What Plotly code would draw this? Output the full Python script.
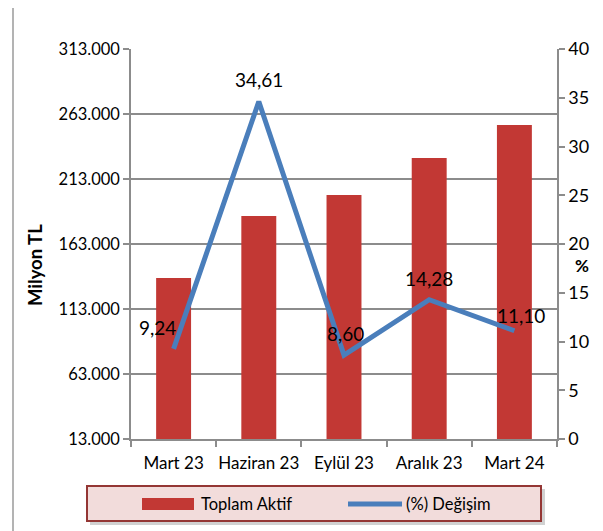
import plotly.graph_objects as go

categories = ["Mart 23", "Haziran 23", "Eylül 23", "Aralık 23", "Mart 24"]
toplam_aktif = [136850, 184540, 200700, 229150, 254540]
degisim = [9.24, 34.61, 8.60, 14.28, 11.10]
left_ticks = [13000, 63000, 113000, 163000, 213000, 263000, 313000]
right_ticks = [0, 5, 10, 15, 20, 25, 30, 35, 40]

label_dx = [-16, 0, 1, 0, 7]
label_dy = [21, 22, 22, 21, 15]

FONT = "Lato"
OFF = 8  # page body margin
WIN_W, WIN_H = 603, 531
W, H = WIN_W - OFF, WIN_H - OFF
# plot area in window pixels
PX0, PX1, PY0, PY1 = 131, 557, 49, 439
L, R, T, B = PX0 - OFF, WIN_W - PX1, PY0 - OFF, WIN_H - PY1
PW, PH = PX1 - PX0, PY1 - PY0


def px_x(p):
    return (p - PX0) / PW


def px_y(p):
    return (PY1 - p) / PH


fig = go.Figure()
fig.add_trace(go.Bar(
    x=categories, y=toplam_aktif, name="Toplam Aktif",
    marker=dict(color="#C23834", line=dict(width=0)),
    yaxis="y", showlegend=False,
))
fig.add_trace(go.Scatter(
    x=categories, y=degisim, name="(%) Değişim", mode="lines",
    line=dict(color="#4A7EBB", width=5), yaxis="y2", showlegend=False,
))

for c, v, dx, dy in zip(categories, degisim, label_dx, label_dy):
    fig.add_annotation(
        x=c, y=v, xref="x", yref="y2", text=f"{v:.2f}".replace(".", ","),
        showarrow=False, xshift=dx, yshift=dy,
        font=dict(family=FONT, size=19, color="#000"),
    )

grid_col = "#8C8C8C"
fig.update_layout(
    width=W, height=H,
    margin=dict(l=L, r=R, t=T, b=B, pad=0),
    paper_bgcolor="white", plot_bgcolor="white",
    separators=",.",
    bargap=0.59,
    font=dict(family=FONT, size=17, color="#000"),
    xaxis=dict(
        showline=True, linecolor=grid_col, linewidth=1.5,
        ticks="outside", tickson="boundaries", ticklen=6,
        tickcolor=grid_col, tickwidth=1.5, showgrid=False,
        tickangle=0, automargin=False, ticklabelstandoff=8,
        tickfont=dict(family=FONT, size=17, color="#000"),
    ),
    yaxis=dict(
        range=[13000, 313000], tickvals=left_ticks,
        tickformat=",d", showgrid=True, gridcolor=grid_col, gridwidth=1.5,
        showline=True, linecolor=grid_col, linewidth=1.5,
        ticks="outside", ticklen=6, tickcolor=grid_col, tickwidth=1.5,
        tickfont=dict(family=FONT, size=16.5, color="#000"),
        zeroline=False,
    ),
    yaxis2=dict(
        range=[0, 40], tickvals=right_ticks, overlaying="y", side="right",
        showgrid=False, showline=True, linecolor=grid_col, linewidth=1.5,
        ticks="outside", ticklen=6, tickcolor=grid_col, tickwidth=1.5,
        tickfont=dict(family=FONT, size=18, color="#000"),
        zeroline=False,
    ),
)

# Axis titles
fig.add_annotation(
    x=px_x(35), y=px_y(265), xref="paper", yref="paper", text="<b>Milyon TL</b>",
    textangle=-90, showarrow=False, xanchor="center", yanchor="middle",
    font=dict(family=FONT, size=18.5, color="#000"),
)
fig.add_annotation(
    x=px_x(582), y=px_y(265), xref="paper", yref="paper", text="<b>%</b>",
    showarrow=False, xanchor="center", yanchor="middle",
    font=dict(family=FONT, size=17, color="#000"),
)

shapes = []
# outer frame
shapes.append(dict(type="rect", xref="paper", yref="paper",
                   x0=px_x(13), x1=px_x(600), y0=px_y(545), y1=px_y(3),
                   line=dict(color="#9A9A9A", width=1.5), fillcolor="rgba(0,0,0,0)", layer="below"))
# legend box shadow + box
shapes.append(dict(type="rect", xref="paper", yref="paper",
                   x0=px_x(90), x1=px_x(545), y0=px_y(525), y1=px_y(489),
                   line=dict(width=0), fillcolor="rgba(0,0,0,0.18)", layer="below"))
shapes.append(dict(type="rect", xref="paper", yref="paper",
                   x0=px_x(87), x1=px_x(541), y0=px_y(521), y1=px_y(486),
                   line=dict(color="#943634", width=2), fillcolor="#F2DCDB", layer="below"))
# legend symbols
shapes.append(dict(type="rect", xref="paper", yref="paper",
                   x0=px_x(142), x1=px_x(194), y0=px_y(510), y1=px_y(498),
                   line=dict(width=0), fillcolor="#C23834"))
shapes.append(dict(type="line", xref="paper", yref="paper",
                   x0=px_x(348), x1=px_x(402), y0=px_y(504), y1=px_y(504),
                   line=dict(color="#4A7EBB", width=5)))
fig.update_layout(shapes=shapes)

fig.add_annotation(x=px_x(199), y=px_y(504), xref="paper", yref="paper", text="Toplam Aktif",
                   xanchor="left", yanchor="middle", showarrow=False,
                   font=dict(family=FONT, size=16.5, color="#000"))
fig.add_annotation(x=px_x(404), y=px_y(504), xref="paper", yref="paper", text="(%) Değişim",
                   xanchor="left", yanchor="middle", showarrow=False,
                   font=dict(family=FONT, size=16.5, color="#000"))

fig.write_html("out.html")
